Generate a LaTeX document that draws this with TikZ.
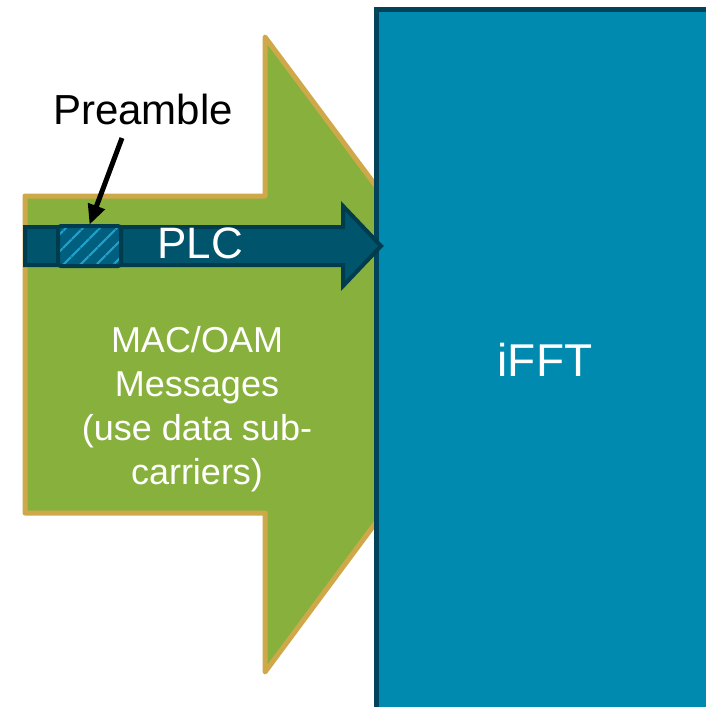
\documentclass[tikz,border=0pt]{standalone}
\usepackage{fontspec}
\setmainfont{Liberation Sans}
\usetikzlibrary{arrows.meta,patterns.meta}
\definecolor{greenfill}{HTML}{88B03C}
\definecolor{goldline}{HTML}{CFA84A}
\definecolor{ifftblue}{HTML}{008AAF}
\definecolor{ifftedge}{HTML}{00435A}
\definecolor{plcfill}{HTML}{00546C}
\definecolor{plcedge}{HTML}{003C4E}
\definecolor{prefill}{HTML}{005E7E}
\definecolor{prestripe}{HTML}{1EA0C8}
\tikzset{
  greenarrow/.style={fill=greenfill,draw=goldline,line width=5pt,line join=round},
  ifftbox/.style={fill=ifftblue,draw=ifftedge,line width=5pt},
  plcarrow/.style={fill=plcfill,draw=plcedge,line width=4pt,line join=miter},
  preamblebox/.style={draw=plcedge,line width=4pt,rounded corners=3pt,minimum width=63pt,minimum height=40pt,inner sep=0pt,
    preaction={fill=prefill},pattern={Lines[angle=45,distance=13pt,line width=2.5pt]},pattern color=prestripe},
  pointer/.style={line width=5pt,-{Triangle[length=20pt,width=17pt]}},
  whitetext/.style={text=white,inner sep=0pt},
  blacktext/.style={text=black,inner sep=0pt}
}
\begin{document}
\begin{tikzpicture}[x=1pt,y=-1pt]
\useasboundingbox (0,0) rectangle (706,707);
% green arrow
\path[greenarrow] (25,196) -- (265,196) -- (265,37) -- (501,354) -- (265,672) -- (265,513) -- (25,513) -- cycle;
% iFFT box
\path[ifftbox] (376.5,9.5) rectangle (730,730);
\node[whitetext,font=\fontsize{46}{52}\selectfont] (ifft) at (545,360) {iFFT};
% PLC arrow
\path[plcarrow] (25,227) -- (343,227) -- (343,206) -- (381,246) -- (343,286) -- (343,265) -- (25,265) -- cycle;
\node[whitetext,font=\fontsize{44}{50}\selectfont] (plc) at (200,243) {PLC};
% preamble box
\node[preamblebox] (pb) at (89.5,246) {};
% preamble label
\node[blacktext,font=\fontsize{42}{48}\selectfont] (pre) at (143,109) {Preamble};
\coordinate (ptrstart) at (122,138);
\draw[pointer] (ptrstart) -- (pb.north);
% messages
\node[whitetext,align=center,font=\fontsize{36}{44}\selectfont] (mac) at (197,409) {MAC/OAM\\Messages\\(use data sub-\\carriers)};
\end{tikzpicture}
\end{document}
